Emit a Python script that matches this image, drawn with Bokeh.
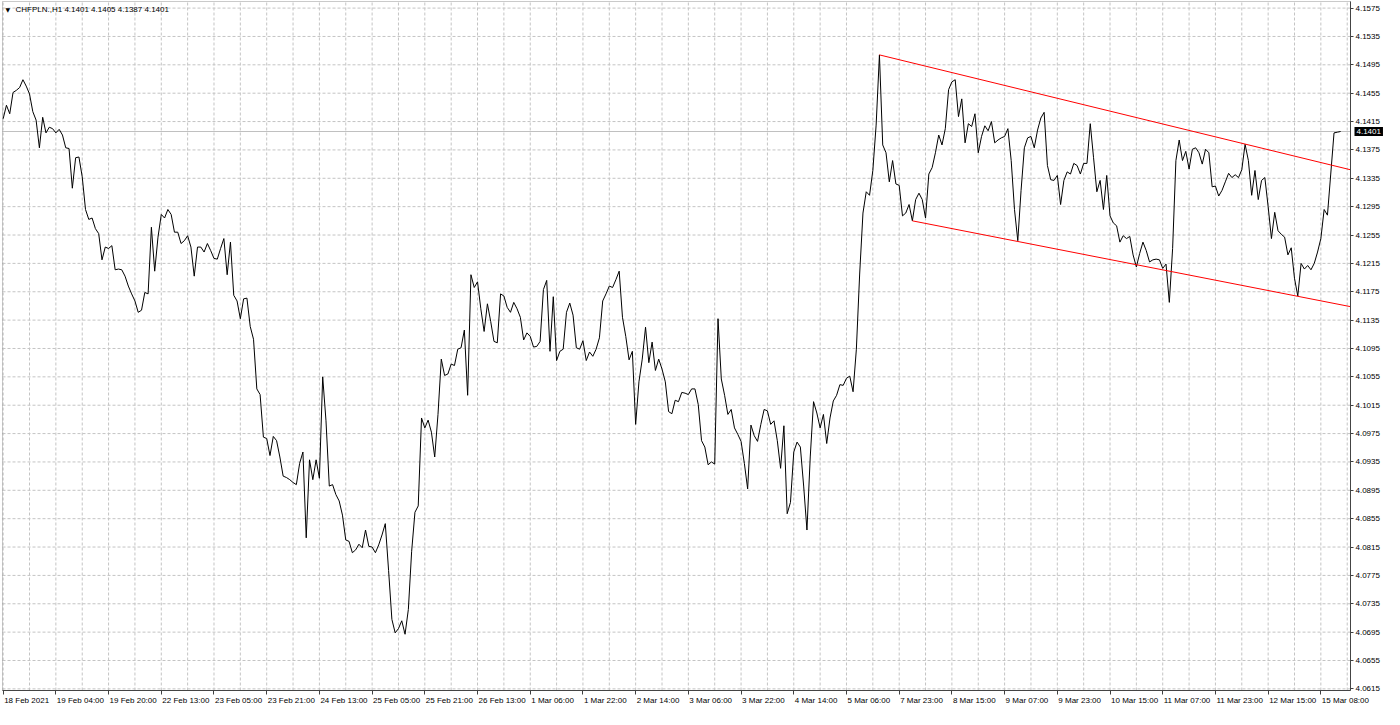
from bokeh.plotting import figure
from bokeh.models import Range1d, FixedTicker, PrintfTickFormatter, Label, BoxAnnotation
from bokeh.embed import file_html
from bokeh.resources import INLINE

# ---------------- data ----------------
symbol_title = "CHFPLN.,H1 4.1401 4.1405 4.1387 4.1401"
last_price = 4.1401

# hourly closes, one per bar (bar 0 = 18 Feb 2021 12:00)
close_prices = [
    4.1419, 4.1438, 4.1426, 4.1456, 4.1459, 4.1463, 4.1474, 4.1465, 4.1454, 4.1429,
    4.1417, 4.1378, 4.1421, 4.1399, 4.1407, 4.1405, 4.1399, 4.1404, 4.1396, 4.1378,
    4.1377, 4.1321, 4.1364, 4.1365, 4.1337, 4.1291, 4.1277, 4.1279, 4.1264, 4.1257,
    4.1220, 4.1238, 4.1236, 4.1240, 4.1206, 4.1207, 4.1206, 4.1197, 4.1183, 4.1172,
    4.1162, 4.1146, 4.1149, 4.1174, 4.1172, 4.1266, 4.1204, 4.1252, 4.1284, 4.1279,
    4.1291, 4.1284, 4.1259, 4.1259, 4.1243, 4.1247, 4.1254, 4.1238, 4.1197, 4.1238,
    4.1238, 4.1231, 4.1243, 4.1233, 4.1222, 4.1221, 4.1236, 4.1250, 4.1199, 4.1245,
    4.1170, 4.1162, 4.1137, 4.1165, 4.1166, 4.1126, 4.1108, 4.1038, 4.1030, 4.0970,
    4.0968, 4.0944, 4.0971, 4.0965, 4.0942, 4.0915, 4.0913, 4.0910, 4.0906, 4.0903,
    4.0933, 4.0949, 4.0828, 4.0938, 4.0910, 4.0938, 4.0912, 4.1055, 4.0993, 4.0901,
    4.0903, 4.0889, 4.0880, 4.0860, 4.0825, 4.0823, 4.0807, 4.0811, 4.0819, 4.0814,
    4.0839, 4.0816, 4.0815, 4.0807, 4.0818, 4.0832, 4.0848, 4.0782, 4.0713, 4.0694,
    4.0700, 4.0711, 4.0692, 4.0727, 4.0809, 4.0864, 4.0873, 4.0997, 4.0983, 4.0994,
    4.0977, 4.0942, 4.1002, 4.1080, 4.1057, 4.1059, 4.1073, 4.1071, 4.1094, 4.1096,
    4.1121, 4.1029, 4.1199, 4.1181, 4.1189, 4.1151, 4.1119, 4.1158, 4.1133, 4.1105,
    4.1103, 4.1172, 4.1169, 4.1153, 4.1146, 4.1160, 4.1151, 4.1139, 4.1107, 4.1117,
    4.1112, 4.1097, 4.1098, 4.1105, 4.1178, 4.1191, 4.1091, 4.1168, 4.1078, 4.1091,
    4.1094, 4.1146, 4.1159, 4.1142, 4.1096, 4.1094, 4.1106, 4.1078, 4.1090, 4.1084,
    4.1094, 4.1110, 4.1162, 4.1172, 4.1183, 4.1181, 4.1192, 4.1204, 4.1139, 4.1112,
    4.1079, 4.1091, 4.0988, 4.1048, 4.1080, 4.1125, 4.1075, 4.1104, 4.1064, 4.1080,
    4.1066, 4.1048, 4.1006, 4.1003, 4.1022, 4.1020, 4.1033, 4.1032, 4.1030, 4.1038,
    4.1038, 4.1016, 4.0965, 4.0956, 4.0931, 4.0935, 4.0932, 4.1137, 4.1052, 4.1029,
    4.1002, 4.1009, 4.0983, 4.0974, 4.0964, 4.0933, 4.0897, 4.0987, 4.0972, 4.0964,
    4.0988, 4.1009, 4.1007, 4.0988, 4.0993, 4.0965, 4.0926, 4.0986, 4.0862, 4.0878,
    4.0949, 4.0963, 4.0956, 4.0901, 4.0839, 4.0942, 4.1020, 4.1004, 4.0983, 4.1002,
    4.0961, 4.0997, 4.1021, 4.1029, 4.1044, 4.1043, 4.1053, 4.1056, 4.1034, 4.1094,
    4.1200, 4.1286, 4.1316, 4.1311, 4.1346, 4.1410, 4.1509, 4.1382, 4.1371, 4.1330,
    4.1360, 4.1327, 4.1325, 4.1282, 4.1286, 4.1298, 4.1275, 4.1305, 4.1314, 4.1305,
    4.1279, 4.1341, 4.1350, 4.1371, 4.1396, 4.1382, 4.1405, 4.1460, 4.1471, 4.1474,
    4.1422, 4.1447, 4.1385, 4.1412, 4.1408, 4.1426, 4.1371, 4.1394, 4.1409, 4.1402,
    4.1415, 4.1385, 4.1389, 4.1392, 4.1394, 4.1405, 4.1360, 4.1291, 4.1247, 4.1318,
    4.1378, 4.1392, 4.1394, 4.1378, 4.1403, 4.1420, 4.1428, 4.1353, 4.1333, 4.1332,
    4.1339, 4.1298, 4.1332, 4.1344, 4.1341, 4.1356, 4.1353, 4.1341, 4.1356, 4.1356,
    4.1412, 4.1364, 4.1316, 4.1332, 4.1291, 4.1339, 4.1282, 4.1272, 4.1268, 4.1245,
    4.1254, 4.1250, 4.1253, 4.1227, 4.1210, 4.1229, 4.1245, 4.1233, 4.1217, 4.1220,
    4.1221, 4.1220, 4.1208, 4.1214, 4.1160, 4.1236, 4.1360, 4.1389, 4.1360, 4.1373,
    4.1348, 4.1376, 4.1378, 4.1371, 4.1355, 4.1376, 4.1371, 4.1323, 4.1324, 4.1310,
    4.1318, 4.1330, 4.1342, 4.1336, 4.1340, 4.1336, 4.1347, 4.1383, 4.1360, 4.1311,
    4.1346, 4.1305, 4.1332, 4.1336, 4.1295, 4.1250, 4.1287, 4.1261, 4.1256, 4.1252,
    4.1227, 4.1237, 4.1194, 4.1169, 4.1215, 4.1207, 4.1212, 4.1206, 4.1215, 4.1231,
    4.1250, 4.1291, 4.1283, 4.1341, 4.1399, 4.1400, 4.1401,
]
bar_index = list(range(len(close_prices)))

time_tick_bars = [0, 16, 32, 48, 64, 80, 96, 112, 128, 144, 160, 176, 192,
                  208, 224, 240, 256, 272, 288, 304, 320, 336, 352, 368, 384, 400]
time_tick_labels = ["18 Feb 2021", "19 Feb 04:00", "19 Feb 20:00", "22 Feb 13:00",
                    "23 Feb 05:00", "23 Feb 21:00", "24 Feb 13:00", "25 Feb 05:00",
                    "25 Feb 21:00", "26 Feb 13:00", "1 Mar 06:00", "1 Mar 22:00",
                    "2 Mar 14:00", "3 Mar 06:00", "3 Mar 22:00", "4 Mar 14:00",
                    "5 Mar 06:00", "7 Mar 23:00", "8 Mar 15:00", "9 Mar 07:00",
                    "9 Mar 23:00", "10 Mar 15:00", "11 Mar 07:00", "11 Mar 23:00",
                    "12 Mar 15:00", "15 Mar 08:00"]
grid_bars = [0, 8, 16, 24, 32, 40, 48, 56, 64, 72, 80, 88, 96, 104, 112, 120, 128,
             136, 144, 152, 160, 168, 176, 184, 192, 200, 208, 216, 224, 232, 240,
             248, 256, 264, 272, 280, 288, 296, 304, 312, 320, 328, 336, 344, 352,
             360, 368, 376, 384, 392, 400, 408]
price_ticks = [4.0615, 4.0655, 4.0695, 4.0735, 4.0775, 4.0815, 4.0855, 4.0895,
               4.0935, 4.0975, 4.1015, 4.1055, 4.1095, 4.1135, 4.1175, 4.1215,
               4.1255, 4.1295, 4.1335, 4.1375, 4.1415, 4.1455, 4.1495, 4.1535, 4.1575]

upper_trend_bars = [266, 409.0]
upper_trend_prices = [4.1509, 4.1347]
lower_trend_bars = [276, 409.0]
lower_trend_prices = [4.1275, 4.1154]

# ---------------- geometry ----------------
FONT = "Liberation Sans"
W, H = 1384, 709
PLOT_L, PLOT_R, PLOT_T, PLOT_B = 2, 34, 1, 19      # pixel margins of the chart area
X_START, X_END = -0.2, 409.0                        # chart area in bars
Y_START, Y_END = 4.06127, 4.15843                   # chart area in price
px_per_bar = (W - PLOT_L - PLOT_R) / (X_END - X_START)
px_per_price = (H - PLOT_T - PLOT_B) / (Y_END - Y_START)
XR = Range1d(X_START - PLOT_L / px_per_bar, X_END + PLOT_R / px_per_bar)
YR = Range1d(Y_START - PLOT_B / px_per_price, Y_END + PLOT_T / px_per_price)

p = figure(width=W, height=H, output_backend="svg", toolbar_location=None,
           x_range=XR, y_range=YR, y_axis_location="right",
           min_border_left=0, min_border_right=0, min_border_top=0, min_border_bottom=0)
p.background_fill_color = "white"
p.border_fill_color = "white"
p.outline_line_color = None
p.xgrid.visible = False
p.ygrid.visible = False

# x axis drawn at the bottom edge of the chart area
p.xaxis.fixed_location = Y_START
p.xaxis.bounds = (X_START, X_END)
p.xaxis.ticker = FixedTicker(ticks=time_tick_bars)
p.xaxis.major_label_text_color = None
p.xaxis.major_label_text_font_size = "0px"
p.xaxis.major_tick_in = 0
p.xaxis.major_tick_out = 4
p.xaxis.minor_tick_line_color = None
p.xaxis.axis_line_color = "#404040"
p.xaxis.major_tick_line_color = "#404040"

# price axis at the right edge of the chart area
p.yaxis.fixed_location = X_END
p.yaxis.bounds = (Y_START, Y_END)
p.yaxis.ticker = FixedTicker(ticks=price_ticks)
p.yaxis.formatter = PrintfTickFormatter(format="%.4f")
p.yaxis.major_label_text_font = FONT
p.yaxis.major_label_text_font_size = "8px"
p.yaxis.major_label_text_color = "black"
p.yaxis.major_label_standoff = 2
p.yaxis.major_tick_in = 0
p.yaxis.major_tick_out = 3
p.yaxis.minor_tick_line_color = None
p.yaxis.axis_line_color = "#404040"
p.yaxis.major_tick_line_color = "#404040"

# dashed grid, limited to the chart area
GRID = "#c4c4c4"
p.segment(x0=grid_bars, y0=[Y_START] * len(grid_bars), x1=grid_bars, y1=[Y_END] * len(grid_bars),
          line_color=GRID, line_dash="3 2", line_width=1, level="underlay")
p.segment(x0=[X_START] * len(price_ticks), y0=price_ticks, x1=[X_END] * len(price_ticks), y1=price_ticks,
          line_color=GRID, line_dash="3 2", line_width=1, level="underlay")

# bid line
p.line([X_START, X_END], [last_price, last_price], line_color="#c0c0c0", line_width=1)

# price line
p.line(bar_index, close_prices, line_color="black", line_width=1)

# trend lines
p.line(upper_trend_bars, upper_trend_prices, line_color="#ff0000", line_width=1)
p.line(lower_trend_bars, lower_trend_prices, line_color="#ff0000", line_width=1)

# chart area border
p.add_layout(BoxAnnotation(left=X_START, right=X_END, bottom=Y_START, top=Y_END,
                           fill_alpha=0, line_color="#505050", line_width=1))

# time labels (left aligned at their tick, like MetaTrader)
for b, txt in zip(time_tick_bars, time_tick_labels):
    p.add_layout(Label(x=b, y=Y_START, x_offset=1, y_offset=-5, text=txt,
                       text_font=FONT, text_font_size="8px", text_color="black",
                       text_align="left", text_baseline="top"))

# title
p.add_layout(Label(x=X_START, y=Y_END, x_offset=3, y_offset=-8, text="\u25bc",
                   text_font="DejaVu Sans", text_font_size="6px", text_color="black",
                   text_align="left", text_baseline="middle"))
p.add_layout(Label(x=X_START, y=Y_END, x_offset=13, y_offset=-8, text=symbol_title,
                   text_font=FONT, text_font_size="8px", text_color="black",
                   text_align="left", text_baseline="middle"))

# current price box on the price axis
p.add_layout(Label(x=X_END, y=last_price, x_offset=4, y_offset=0, text="4.1401",
                   text_font=FONT, text_font_size="8px", text_color="white",
                   text_align="left", text_baseline="middle",
                   background_fill_color="black", padding=2))

open("out.html", "w").write(file_html(p, INLINE))
